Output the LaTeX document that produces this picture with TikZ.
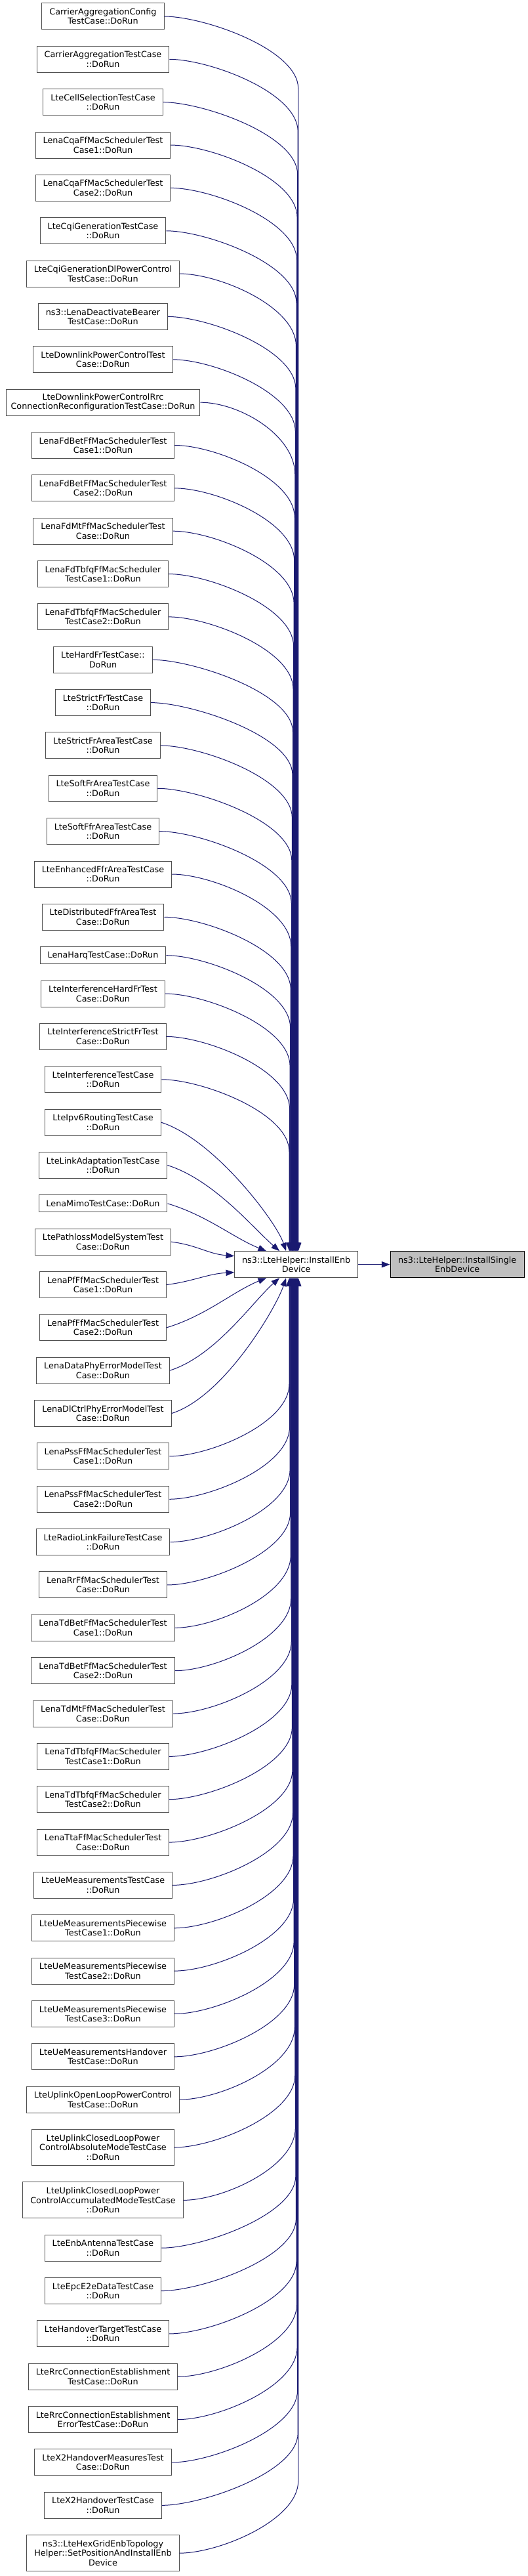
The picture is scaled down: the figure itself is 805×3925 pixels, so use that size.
\documentclass[tikz,border=0pt]{standalone}
\usepackage{fontspec}
\setmainfont{DejaVu Sans}
\usetikzlibrary{arrows.meta,calc}
\definecolor{edgeblue}{HTML}{191970}
\definecolor{bordergrey}{HTML}{505050}
\definecolor{focusgrey}{HTML}{BFBFBF}
\tikzset{
  box/.style={draw=bordergrey, fill=white, line width=0.75pt, align=center,
    inner xsep=8.6pt, inner ysep=0pt, font=\fontsize{9.6}{10.8}\selectfont},
  lone/.style={box, minimum height=19.5pt},
  ltwo/.style={box, minimum height=30pt},
  lthree/.style={box, minimum height=41.25pt},
  edge/.style={draw=edgeblue, line width=0.75pt, -{Triangle[length=9.5pt,width=7pt]}}
}
\begin{document}
\begin{tikzpicture}[x=0.75pt,y=-0.75pt]
\useasboundingbox (0,0) rectangle (805,3925);
\fill[white] (0,0) rectangle (805,3925);

\node[ltwo] (b1) at (157,25) {CarrierAggregationConfig\\TestCase::DoRun};
\node[ltwo] (b2) at (157,90.35) {CarrierAggregationTestCase\\::DoRun};
\node[ltwo] (b3) at (157,155.7) {LteCellSelectionTestCase\\::DoRun};
\node[ltwo] (b4) at (157,221.05) {LenaCqaFfMacSchedulerTest\\Case1::DoRun};
\node[ltwo] (b5) at (157,286.4) {LenaCqaFfMacSchedulerTest\\Case2::DoRun};
\node[ltwo] (b6) at (157,351.75) {LteCqiGenerationTestCase\\::DoRun};
\node[ltwo] (b7) at (157,417.1) {LteCqiGenerationDlPowerControl\\TestCase::DoRun};
\node[ltwo] (b8) at (157,482.45) {ns3::LenaDeactivateBearer\\TestCase::DoRun};
\node[ltwo] (b9) at (157,547.8) {LteDownlinkPowerControlTest\\Case::DoRun};
\node[ltwo, inner xsep=5.5pt] (b10) at (157,613.15) {LteDownlinkPowerControlRrc\\ConnectionReconfigurationTestCase::DoRun};
\node[ltwo] (b11) at (157,678.5) {LenaFdBetFfMacSchedulerTest\\Case1::DoRun};
\node[ltwo] (b12) at (157,743.85) {LenaFdBetFfMacSchedulerTest\\Case2::DoRun};
\node[ltwo] (b13) at (157,809.2) {LenaFdMtFfMacSchedulerTest\\Case::DoRun};
\node[ltwo] (b14) at (157,874.55) {LenaFdTbfqFfMacScheduler\\TestCase1::DoRun};
\node[ltwo] (b15) at (157,939.9) {LenaFdTbfqFfMacScheduler\\TestCase2::DoRun};
\node[ltwo] (b16) at (157,1005.25) {LteHardFrTestCase::\\DoRun};
\node[ltwo] (b17) at (157,1070.6) {LteStrictFrTestCase\\::DoRun};
\node[ltwo] (b18) at (157,1135.95) {LteStrictFrAreaTestCase\\::DoRun};
\node[ltwo] (b19) at (157,1201.3) {LteSoftFrAreaTestCase\\::DoRun};
\node[ltwo] (b20) at (157,1266.65) {LteSoftFfrAreaTestCase\\::DoRun};
\node[ltwo] (b21) at (157,1332) {LteEnhancedFfrAreaTestCase\\::DoRun};
\node[ltwo] (b22) at (157,1397.35) {LteDistributedFfrAreaTest\\Case::DoRun};
\node[lone] (b23) at (157,1455.7) {LenaHarqTestCase::DoRun};
\node[ltwo] (b24) at (157,1514.05) {LteInterferenceHardFrTest\\Case::DoRun};
\node[ltwo] (b25) at (157,1579.4) {LteInterferenceStrictFrTest\\Case::DoRun};
\node[ltwo] (b26) at (157,1644.75) {LteInterferenceTestCase\\::DoRun};
\node[ltwo] (b27) at (157,1710.1) {LteIpv6RoutingTestCase\\::DoRun};
\node[ltwo] (b28) at (157,1775.45) {LteLinkAdaptationTestCase\\::DoRun};
\node[lone] (b29) at (157,1833.8) {LenaMimoTestCase::DoRun};
\node[ltwo] (b30) at (157,1892.15) {LtePathlossModelSystemTest\\Case::DoRun};
\node[ltwo] (b31) at (157,1957.5) {LenaPfFfMacSchedulerTest\\Case1::DoRun};
\node[ltwo] (b32) at (157,2022.85) {LenaPfFfMacSchedulerTest\\Case2::DoRun};
\node[ltwo] (b33) at (157,2088.2) {LenaDataPhyErrorModelTest\\Case::DoRun};
\node[ltwo] (b34) at (157,2153.55) {LenaDlCtrlPhyErrorModelTest\\Case::DoRun};
\node[ltwo] (b35) at (157,2218.9) {LenaPssFfMacSchedulerTest\\Case1::DoRun};
\node[ltwo] (b36) at (157,2284.25) {LenaPssFfMacSchedulerTest\\Case2::DoRun};
\node[ltwo] (b37) at (157,2349.6) {LteRadioLinkFailureTestCase\\::DoRun};
\node[ltwo] (b38) at (157,2414.95) {LenaRrFfMacSchedulerTest\\Case::DoRun};
\node[ltwo] (b39) at (157,2480.3) {LenaTdBetFfMacSchedulerTest\\Case1::DoRun};
\node[ltwo] (b40) at (157,2545.65) {LenaTdBetFfMacSchedulerTest\\Case2::DoRun};
\node[ltwo] (b41) at (157,2611) {LenaTdMtFfMacSchedulerTest\\Case::DoRun};
\node[ltwo] (b42) at (157,2676.35) {LenaTdTbfqFfMacScheduler\\TestCase1::DoRun};
\node[ltwo] (b43) at (157,2741.7) {LenaTdTbfqFfMacScheduler\\TestCase2::DoRun};
\node[ltwo] (b44) at (157,2807.05) {LenaTtaFfMacSchedulerTest\\Case::DoRun};
\node[ltwo] (b45) at (157,2872.4) {LteUeMeasurementsTestCase\\::DoRun};
\node[ltwo] (b46) at (157,2937.75) {LteUeMeasurementsPiecewise\\TestCase1::DoRun};
\node[ltwo] (b47) at (157,3003.1) {LteUeMeasurementsPiecewise\\TestCase2::DoRun};
\node[ltwo] (b48) at (157,3068.45) {LteUeMeasurementsPiecewise\\TestCase3::DoRun};
\node[ltwo] (b49) at (157,3133.8) {LteUeMeasurementsHandover\\TestCase::DoRun};
\node[ltwo] (b50) at (157,3199.15) {LteUplinkOpenLoopPowerControl\\TestCase::DoRun};
\node[lthree] (b51) at (157,3272) {LteUplinkClosedLoopPower\\ControlAbsoluteModeTestCase\\::DoRun};
\node[lthree] (b52) at (157,3352.35) {LteUplinkClosedLoopPower\\ControlAccumulatedModeTestCase\\::DoRun};
\node[ltwo] (b53) at (157,3425.2) {LteEnbAntennaTestCase\\::DoRun};
\node[ltwo] (b54) at (157,3490.55) {LteEpcE2eDataTestCase\\::DoRun};
\node[ltwo] (b55) at (157,3555.9) {LteHandoverTargetTestCase\\::DoRun};
\node[ltwo] (b56) at (157,3621.25) {LteRrcConnectionEstablishment\\TestCase::DoRun};
\node[ltwo] (b57) at (157,3686.6) {LteRrcConnectionEstablishment\\ErrorTestCase::DoRun};
\node[ltwo] (b58) at (157,3751.95) {LteX2HandoverMeasuresTest\\Case::DoRun};
\node[ltwo] (b59) at (157,3817.3) {LteX2HandoverTestCase\\::DoRun};
\node[lthree] (b60) at (157,3890.15) {ns3::LteHexGridEnbTopology\\Helper::SetPositionAndInstallEnb\\Device};

\node[ltwo, minimum width=141pt] (mid) at (451.7,1926.7) {ns3::LteHelper::InstallEnb\\Device};
\node[ltwo, minimum width=153.2pt, draw=black, fill=focusgrey] (focus) at (697.2,1926.7) {ns3::LteHelper::InstallSingle\\EnbDevice};

\draw[edge] (mid.east) -- (focus.west);

% far callers above: bundle into top side
\foreach \i in {1,...,26}{
  \pgfmathsetmacro\xe{441+0.55*(26-\i)}
  \coordinate (X) at (\xe,0);
  \draw[edge] (b\i.east) .. controls ($(b\i.east)+(60,0)$) and ($(b\i.east -| X)+(0,50)$) .. ($(b\i.east -| X)+(0,110)$) -- (X |- mid.north);
}
% far callers below: bundle into bottom side
\foreach \i in {35,...,60}{
  \pgfmathsetmacro\xe{441+0.55*(\i-35)}
  \coordinate (X) at (\xe,0);
  \draw[edge] (b\i.east) .. controls ($(b\i.east)+(60,0)$) and ($(b\i.east -| X)+(0,-50)$) .. ($(b\i.east -| X)+(0,-110)$) -- (X |- mid.south);
}
% near callers above
\coordinate (e29) at ($(mid.north west)+(49,0)$);
\coordinate (e28) at ($(mid.north west)+(69,0)$);
\coordinate (e27) at ($(mid.north west)+(79,0)$);
\draw[edge] (b29.east) .. controls ($(b29.east)+(60,18)$) and ($(e29)+(-50,-20)$) .. (e29);
\draw[edge] (b28.east) .. controls ($(b28.east)+(70,22)$) and ($(e28)+(-40,-35)$) .. (e28);
\draw[edge] (b27.east) .. controls ($(b27.east)+(80,25)$) and ($(e27)+(-15,-45)$) .. (e27);
% near callers below
\coordinate (e32) at ($(mid.south west)+(49,0)$);
\coordinate (e33) at ($(mid.south west)+(69,0)$);
\coordinate (e34) at ($(mid.south west)+(79,0)$);
\draw[edge] (b32.east) .. controls ($(b32.east)+(60,-18)$) and ($(e32)+(-50,20)$) .. (e32);
\draw[edge] (b33.east) .. controls ($(b33.east)+(70,-22)$) and ($(e33)+(-40,35)$) .. (e33);
\draw[edge] (b34.east) .. controls ($(b34.east)+(80,-25)$) and ($(e34)+(-15,45)$) .. (e34);
% level callers into the left side
\draw[edge] (b30.east) .. controls ($(b30.east)+(40,5)$) and ($(mid.west)+(-40,-16)$) .. ($(mid.west)+(0,-13)$);
\draw[edge] (b31.east) .. controls ($(b31.east)+(40,-5)$) and ($(mid.west)+(-40,14)$) .. ($(mid.west)+(0,12)$);
\end{tikzpicture}
\end{document}
